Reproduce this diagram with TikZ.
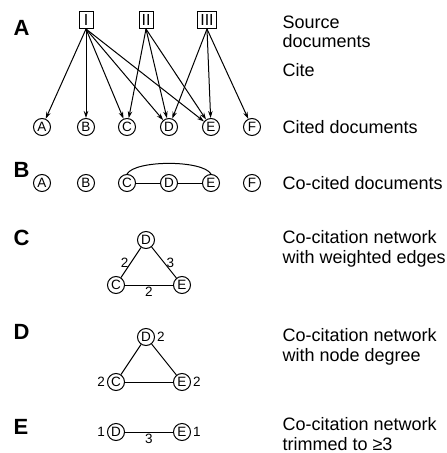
\documentclass[tikz,border=0pt]{standalone}
\usepackage{fontspec}
\setmainfont{Liberation Sans}
\usetikzlibrary{arrows.meta, positioning}

\begin{document}
\begin{tikzpicture}[
    x=1pt, y=-1pt,
    doc/.style={circle, draw, line width=1pt, inner sep=0pt, minimum size=17pt,
                font=\fontsize{13.5}{13.5}\selectfont},
    src/.style={rectangle, draw, line width=1pt, inner sep=1pt, minimum width=14pt,
                minimum height=17pt, font=\fontsize{16}{16}\selectfont},
    panel/.style={anchor=west, font=\fontsize{22}{22}\selectfont\bfseries},
    caption/.style={anchor=west, align=left, font=\fontsize{18}{19.5}\selectfont},
    wt/.style={font=\fontsize{13.5}{13.5}\selectfont, inner sep=2pt},
    cite/.style={-{Stealth[length=7pt,width=4.5pt]}, line width=1pt},
    link/.style={line width=1pt},
]
\useasboundingbox (0,0) rectangle (447,453);

% A -- source documents citing cited documents
\node[panel] (pA) at (10,28) {A};
\node[src] (s1) at (86,20) {I};
\node[src] (s2) at (146,20) {II};
\node[src, minimum width=19pt] (s3) at (207,20) {III};
\foreach \n/\x in {A/42, B/86, C/127, D/169, E/211, F/252}
    \node[doc] (a\n) at (\x,127) {\n};

\foreach \t in {A,B,C,D,E}
    \draw[cite] (s1.south) -- (a\t);
\foreach \t in {C,D,E}
    \draw[cite] (s2.south) -- (a\t);
\foreach \t in {D,E,F}
    \draw[cite] (s3.south) -- (a\t);

\node[caption] (tsrc) at (279,32) {Source\\documents};
\node[caption] (tcite) at (279,70) {Cite};
\node[caption] (tcited) at (279,127) {Cited documents};

% B -- co-cited pairs
\node[panel] (pB) at (10,170) {B};
\foreach \n/\x in {A/42, B/86, C/127, D/169, E/211, F/252}
    \node[doc] (b\n) at (\x,183) {\n};
\draw[link] (bC) -- (bD);
\draw[link] (bD) -- (bE);
\draw[link] (bC.north) to[out=60, in=120, looseness=0.5] (bE.north);
\node[caption] (tcoc) at (279,183) {Co-cited documents};

% C -- weighted co-citation network
\node[panel] (pC) at (10,238) {C};
\node[doc] (cD) at (146,240) {D};
\node[doc] (cC) at (116,285) {C};
\node[doc] (cE) at (182,285) {E};
\draw[link] (cD) -- node[wt, left] {2} (cC);
\draw[link] (cD) -- node[wt, right] {3} (cE);
\draw[link] (cC) -- node[wt, below] {2} (cE);
\node[caption] (tnet) at (279,249) {Co-citation network\\with weighted edges};

% D -- node degree
\node[panel] (pD) at (10,332) {D};
\node[doc, label={[wt]right:2}] (dD) at (146,337) {D};
\node[doc, label={[wt]left:2}] (dC) at (116,382) {C};
\node[doc, label={[wt]right:2}] (dE) at (182,382) {E};
\draw[link] (dD) -- (dC);
\draw[link] (dD) -- (dE);
\draw[link] (dC) -- (dE);
\node[caption] (tdeg) at (279,347) {Co-citation network\\with node degree};

% E -- trimmed network
\node[panel] (pE) at (10,427) {E};
\node[doc, label={[wt]left:1}] (eD) at (116,432) {D};
\node[doc, label={[wt]right:1}] (eE) at (182,432) {E};
\draw[link] (eD) -- node[wt, below] {3} (eE);
\node[caption] (ttrim) at (279,434) {Co-citation network\\trimmed to ≥3};

\end{tikzpicture}
\end{document}
